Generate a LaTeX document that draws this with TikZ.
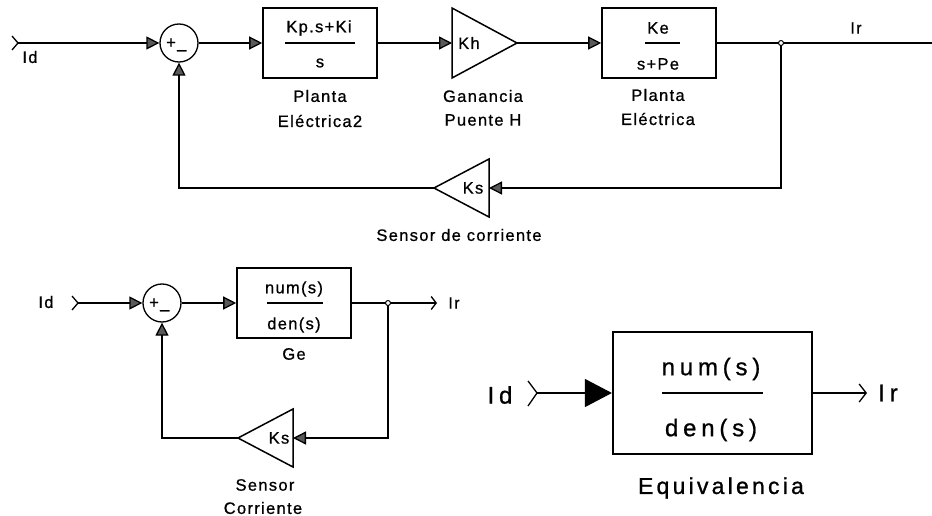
\documentclass[tikz,border=0pt]{standalone}
\usepackage{fontspec}
\setmainfont{Liberation Sans}
\newfontfamily\labf[LetterSpace=8,FakeBold=0.8]{Liberation Sans}
\newfontfamily\eqf[LetterSpace=20,FakeBold=0.8]{Liberation Sans}
\newfontfamily\eqtf[LetterSpace=14,FakeBold=1]{Liberation Sans}
\usetikzlibrary{arrows.meta}
\tikzset{
 wire/.style={line width=1.3pt},
 port/.style={wire,-{Triangle[length=13pt,width=13pt,fill=black!65]}},
 bigport/.style={wire,-{Triangle[length=27pt,width=28pt,fill=black]}},
 outarr/.style={wire,-{Straight Barb[length=5pt,width=13pt]}},
 bigout/.style={wire,-{Straight Barb[length=7pt,width=18pt]}},
 blk/.style={draw,line width=1.6pt,minimum width=114pt,minimum height=70pt,inner sep=0},
 bigblk/.style={draw,line width=2.2pt,minimum width=199pt,minimum height=122pt,inner sep=0},
 gainline/.style={line width=1.5pt},
 fracline/.style={line width=1.4pt},
 sumc/.style={draw,circle,line width=1.3pt,minimum size=38pt,inner sep=0},
 lbl/.style={inner sep=0,font=\labf\fontsize{16.5}{19}\selectfont},
 biglbl/.style={inner sep=0,font=\eqf\fontsize{24}{28}\selectfont},
 eqlbl/.style={inner sep=0,font=\eqtf\fontsize{23}{27}\selectfont},
 jdot/.style={draw,circle,line width=1pt,minimum size=5pt,inner sep=0,fill=white},
 chev/.style={line width=1.3pt},
}
\begin{document}
\begin{tikzpicture}[x=1pt,y=-1pt]
\useasboundingbox[fill=white] (0,0) rectangle (932,516);

%% ---------------- top diagram ----------------
\coordinate (in1) at (18,43);
\draw[chev] (12,36) -- (in1) -- (12,50);
\node[lbl] (id1) at (30,57) {Id};
\node[sumc] (s1) at (179,43) {};
\node[lbl,anchor=base west] (s1t) at (166,48) {+\_};
\node[blk] (b1) at (320,43) {};
\node[lbl] (b1n) at (319,28) {Kp.s+Ki};
\draw[fracline] (285,43) -- (355,43);
\node[lbl] (b1d) at (320,63) {s};
\node[lbl] (b1l1) at (320,96) {Planta};
\node[lbl] (b1l2) at (320,121) {Eléctrica2};

\coordinate (khin) at (452,43);
\coordinate (khout) at (517,43);
\draw[gainline] (452,8) -- (khout) -- (452,78) -- cycle;
\node[lbl] (kh) at (469,43) {Kh};
\node[lbl] (khl1) at (483,96) {Ganancia};
\node[lbl] (khl2) at (483,120) {Puente H};

\node[blk] (b3) at (659,43) {};
\node[lbl] (b3n) at (658,28) {Ke};
\draw[fracline] (645,43) -- (680,43);
\node[lbl] (b3d) at (658,64) {s+Pe};
\node[lbl] (b3l1) at (658,95) {Planta};
\node[lbl] (b3l2) at (658,119) {Eléctrica};

\coordinate (j1) at (781,43);
\coordinate (out1) at (932,43);
\node[lbl] (ir1) at (856,28) {Ir};

\coordinate (ksin) at (489,188);
\coordinate (ksout) at (434,188);
\draw[gainline] (489,159) -- (ksout) -- (489,217) -- cycle;
\node[lbl] (ks1) at (473,188) {Ks};
\node[lbl] (ksl) at (459,235) {Sensor de corriente};

\draw[port] (in1) -- (s1.west);
\draw[port] (s1.east) -- (b1.west);
\draw[port] (b1.east) -- (khin);
\draw[port] (khout) -- (b3.west);
\draw[wire] (b3.east) -- (out1);
\draw[port] (j1) |- (ksin);
\draw[port] (ksout) -| (s1.south);
\node[jdot] (j1d) at (j1) {};

%% ---------------- bottom-left diagram ----------------
\coordinate (in2) at (78,303);
\draw[chev] (72,296) -- (in2) -- (72,310);
\node[lbl] (id2) at (46,302) {Id};
\node[sumc] (s2) at (162,303) {};
\node[lbl,anchor=base west] (s2t) at (149,308) {+\_};
\node[blk] (b4) at (294,303) {};
\node[lbl] (b4n) at (294,289) {num(s)};
\draw[fracline] (267,303) -- (323,303);
\node[lbl] (b4d) at (294,325) {den(s)};
\node[lbl] (ge) at (294,354) {Ge};

\coordinate (j2) at (388,303);
\coordinate (out2) at (437,303);
\node[lbl] (ir2) at (454,303) {Ir};

\coordinate (ks2in) at (293,438);
\coordinate (ks2out) at (238,438);
\draw[gainline] (293,409) -- (ks2out) -- (293,467) -- cycle;
\node[lbl] (ks2) at (279,438) {Ks};
\node[lbl] (ks2l1) at (265,485) {Sensor};
\node[lbl] (ks2l2) at (263,508) {Corriente};

\draw[port] (in2) -- (s2.west);
\draw[port] (s2.east) -- (b4.west);
\draw[outarr] (b4.east) -- (out2);
\draw[port] (j2) |- (ks2in);
\draw[port] (ks2out) -| (s2.south);
\node[jdot] (j2d) at (j2) {};

%% ---------------- bottom-right diagram ----------------
\coordinate (in3) at (537,393);
\draw[chev] (528,381) -- (in3) -- (528,406);
\node[biglbl] (id3) at (500,395) {Id};
\node[bigblk] (b5) at (712.5,393) {};
\node[biglbl] (b5n) at (711,369) {num(s)};
\draw[line width=2pt] (662,393) -- (763,393);
\node[biglbl] (b5d) at (711,430) {den(s)};
\node[eqlbl] (eq) at (721,488) {Equivalencia};
\coordinate (out3) at (867,393);
\node[biglbl] (ir3) at (888,393) {Ir};

\draw[bigport] (in3) -- (b5.west);
\draw[bigout] (b5.east) -- (out3);
\end{tikzpicture}
\end{document}
